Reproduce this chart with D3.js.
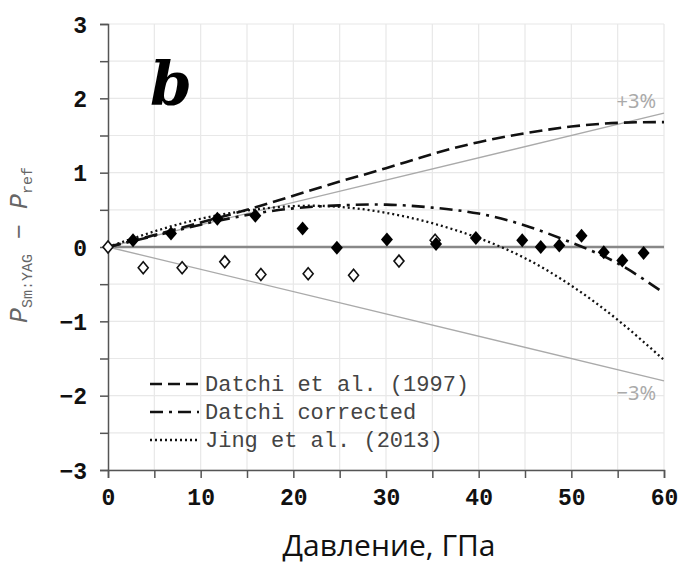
<!DOCTYPE html>
<html><head><meta charset="utf-8">
<script src="https://cdn.jsdelivr.net/npm/d3@7"></script>
<style>body{margin:0;background:#fff}</style>
</head><body><svg id="c" width="684" height="567"></svg>
<script>
// ---- data ----
const xTicks = [0,10,20,30,40,50,60];
const yTicks = [-3,-2,-1,0,1,2,3];
const datchiP = [0,5,10,15,20,25,30,35,40,45,50,55,60];
const datchiV = [0,0.16,0.33,0.50,0.69,0.88,1.06,1.25,1.41,1.53,1.62,1.67,1.68];
const corrP = [0,5,10,15,20,25,30,35,40,45,50,55,60];
const corrV = [0,0.15,0.30,0.43,0.52,0.56,0.57,0.53,0.45,0.29,0.06,-0.22,-0.62];
const jingP = [0,5,10,15,20,25,30,35,40,45,50,55,60];
const jingV = [0,0.21,0.38,0.49,0.55,0.54,0.46,0.32,0.12,-0.15,-0.52,-0.98,-1.52];
const filledP = [2.7,6.8,11.8,15.9,21.0,24.7,30.1,35.4,39.7,44.7,46.7,48.7,51.1,53.5,55.5,57.8];
const filledV = [0.09,0.18,0.38,0.42,0.25,-0.01,0.10,0.04,0.12,0.09,0.00,0.02,0.15,-0.07,-0.18,-0.08];
const openP = [0,3.8,8.0,12.6,16.5,21.6,26.5,31.4,35.3];
const openV = [0,-0.28,-0.28,-0.20,-0.37,-0.36,-0.38,-0.19,0.09];
const bandPct = [3,-3];
const legendLabels = ["Datchi et al. (1997)","Datchi corrected","Jing et al. (2013)"];

const svg = d3.select("#c");
const x = d3.scaleLinear().domain([0,60]).range([108,664]);
const y = d3.scaleLinear().domain([-3,3]).range([470,24]);
const mono = "'Liberation Mono','DejaVu Sans Mono',monospace";

// grid
const g = svg.append("g");
g.selectAll("line.vx").data(d3.range(5,61,5)).join("line")
  .attr("x1",d=>x(d)).attr("x2",d=>x(d)).attr("y1",y(3)).attr("y2",y(-3))
  .attr("stroke","#e8e8e8").attr("stroke-width",1.2);
g.selectAll("line.hy").data(d3.range(-3,3.01,0.5)).join("line")
  .attr("x1",x(0)).attr("x2",x(60)).attr("y1",d=>y(d)).attr("y2",d=>y(d))
  .attr("stroke","#e8e8e8").attr("stroke-width",1.2);

// axes
const xAxis = d3.axisBottom(x).tickValues(d3.range(0,61,5)).tickSize(8)
  .tickFormat(d=>xTicks.includes(d)?d:"");
const yAxis = d3.axisLeft(y).tickValues(d3.range(-3,3.01,0.5)).tickSize(8)
  .tickFormat(d=>yTicks.includes(d)?d3.format("")(d):"");
const gx = svg.append("g").attr("transform",`translate(0,${y(-3)})`).call(xAxis);
const gy = svg.append("g").attr("transform",`translate(${x(0)},0)`).call(yAxis);
[gx,gy].forEach(a=>{
  a.select(".domain").attr("stroke","#555").attr("stroke-width",1.5);
  a.selectAll(".tick line").attr("stroke","#555").attr("stroke-width",1.5);
  a.selectAll(".tick text").attr("fill","#111").style("font-family",mono)
    .style("font-weight","bold").style("font-size","23px");
});
gx.selectAll(".tick text").attr("dy","0").attr("y",35);
gy.selectAll(".tick text").attr("x",-21).attr("dy","0.36em");

// zero line
svg.append("line").attr("x1",x(0)).attr("x2",x(60)).attr("y1",y(0)).attr("y2",y(0))
  .attr("stroke","#888").attr("stroke-width",2.5);

// +-3% lines
svg.selectAll("line.band").data(bandPct).join("line")
  .attr("x1",x(0)).attr("y1",y(0)).attr("x2",x(60)).attr("y2",d=>y(60*d/100))
  .attr("stroke","#aaa").attr("stroke-width",1.3);
svg.selectAll("text.band").data(bandPct).join("text")
  .attr("x",x(60)-8).attr("y",d=>d>0?108:400).attr("text-anchor","end")
  .attr("fill","#aaa").style("font-family","'Noto Sans',sans-serif").style("font-size","20px")
  .text(d=>(d>0?"+":"\u2212")+Math.abs(d)+"%");

// curves
const line = d3.line().x(d=>x(d[0])).y(d=>y(d[1])).curve(d3.curveNatural);
const styles = [
  {p:datchiP,v:datchiV,dash:"13,6",w:2.6},
  {p:corrP,v:corrV,dash:"13,6,3,6",w:2.6},
  {p:jingP,v:jingV,dash:"2,3",w:2.3}
];
styles.forEach(s=>{
  svg.append("path").datum(s.p.map((p,i)=>[p,s.v[i]])).attr("d",line)
    .attr("fill","none").attr("stroke","#111").attr("stroke-width",s.w)
    .attr("stroke-dasharray",s.dash);
});

// diamonds
function diamond(cx,cy,hw,hh){const p=d3.path();p.moveTo(cx,cy-hh);p.lineTo(cx+hw,cy);p.lineTo(cx,cy+hh);p.lineTo(cx-hw,cy);p.closePath();return p.toString();}
svg.selectAll("path.open").data(openP.map((p,i)=>[p,openV[i]])).join("path")
  .attr("d",d=>diamond(x(d[0]),y(d[1]),5,6)).attr("fill","#fff").attr("stroke","#111").attr("stroke-width",1.6);
svg.selectAll("path.fill").data(filledP.map((p,i)=>[p,filledV[i]])).join("path")
  .attr("d",d=>diamond(x(d[0]),y(d[1]),6,7)).attr("fill","#000");

// legend
const lg = svg.append("g");
legendLabels.forEach((t,i)=>{
  const cy = 384+i*28;
  lg.append("line").attr("x1",150).attr("x2",199).attr("y1",cy).attr("y2",cy)
    .attr("stroke","#111").attr("stroke-width",styles[i].w).attr("stroke-dasharray",
      i==0?"12,6":i==1?"13,6,3,6":"2,3");
  lg.append("text").attr("x",205).attr("y",cy+7).text(t).attr("fill","#444")
    .style("font-family",mono).style("font-size","22px");
});

// panel letter
svg.append("text").attr("x",150).attr("y",105).text("b")
  .style("font-family","'DejaVu Serif',serif").style("font-weight","bold").style("font-style","italic")
  .style("font-size","60px").attr("fill","#000");

// axis titles
svg.append("text").attr("x",(x(0)+x(60))/2+3).attr("y",556).attr("text-anchor","middle")
  .style("font-family","'Open Sans',sans-serif").style("font-size","30px").attr("fill","#111")
  .text("Давление, ГПа");
const yt = svg.append("text").attr("transform",`translate(27,${y(0)-2}) rotate(-90)`)
  .attr("text-anchor","middle").attr("fill","#666").style("font-family",mono).style("font-size","25px");
yt.append("tspan").text("P").style("font-style","italic");
yt.append("tspan").text("Sm:YAG").style("font-size","15px").attr("dy",5);
yt.append("tspan").text(" \u2212 ").attr("dy",-5);
yt.append("tspan").text("P").style("font-style","italic");
yt.append("tspan").text("ref").style("font-size","15px").attr("dy",5);
</script></body></html>
